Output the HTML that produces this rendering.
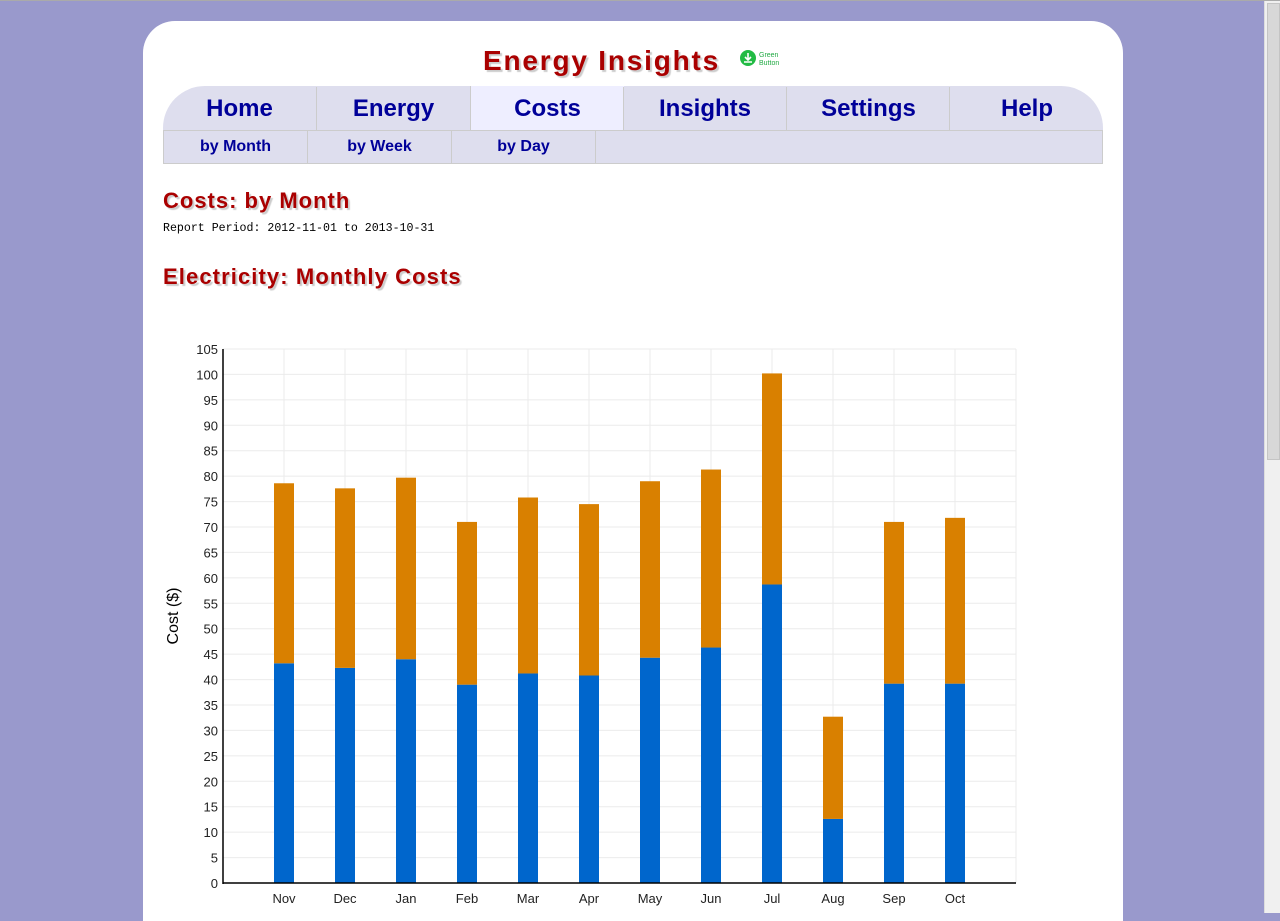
<!DOCTYPE html>
<html><head><meta charset="utf-8"><style>
html,body{margin:0;padding:0;}
body{width:1280px;height:913px;background:#9999cc;position:relative;overflow:hidden;font-family:"Liberation Sans",sans-serif;}
#topline{position:absolute;left:0;top:0;width:1280px;height:1px;background:#aaa;}
#scroll{position:absolute;left:1264px;top:1px;width:16px;height:912px;background:#f0f0f0;border-left:1px solid #ddd;}
#thumb{position:absolute;left:2px;top:2px;width:11px;height:455px;background:#d8d8d8;border:1px solid #c4c4c4;}
#card{position:absolute;left:143px;top:21px;width:980px;height:900px;background:#fff;border-radius:32px 32px 0 0;}
#title{position:absolute;left:340px;top:24px;white-space:nowrap;font-size:28px;letter-spacing:1.8px;font-weight:bold;color:#aa0000;text-shadow:2px 2px 1px #ccc;}
#gb{position:absolute;left:597px;top:28px;}
#nav{position:absolute;left:20px;top:65px;width:940px;height:44px;background:#dedeee;border-radius:42px 42px 0 0;overflow:hidden;border-bottom:1px solid #ccc;}
.tab{position:absolute;top:1px;height:44px;line-height:44px;text-align:center;font-size:24px;font-weight:bold;color:#000099;border-left:1px solid #ccc;}
#sub{position:absolute;left:20px;top:110px;width:938px;height:32px;background:#dedeee;border:1px solid #ccc;border-top:none;}
.st{position:absolute;top:0;height:32px;line-height:32px;text-align:center;font-size:16px;font-weight:bold;color:#000099;border-right:1px solid #ccc;}
h2{position:absolute;margin:0;left:20px;white-space:nowrap;font-size:22px;font-weight:bold;color:#aa0000;text-shadow:2px 2px 1px #ccc;}
#period{position:absolute;left:20px;top:201px;font-family:"Liberation Mono",monospace;font-size:11.6px;color:#000;}
</style></head><body>
<div id="topline"></div>
<div id="card">
<div id="title">Energy Insights</div>
<svg id="gb" width="42" height="22"><circle cx="8" cy="9" r="8" fill="#22bb44"/><path d="M8 4v7M5 8l3 3 3-3M4 13h8" stroke="#fff" stroke-width="1.6" fill="none"/><text x="19" y="8" font-size="7" fill="#22aa44" font-family="Liberation Sans">Green</text><text x="19" y="16" font-size="7" fill="#22aa44" font-family="Liberation Sans">Button</text></svg>
<div id="nav">
<div class="tab" style="left:0;width:153px;border-left:none">Home</div>
<div class="tab" style="left:153px;width:153px">Energy</div>
<div class="tab" style="left:307px;width:153px;background:#eeeeff;top:0;height:45px;line-height:46px">Costs</div>
<div class="tab" style="left:460px;width:162px">Insights</div>
<div class="tab" style="left:623px;width:163px">Settings</div>
<div class="tab" style="left:786px;width:154px">Help</div>
</div>
<div id="sub">
<div class="st" style="left:0;width:143px">by Month</div>
<div class="st" style="left:144px;width:143px">by Week</div>
<div class="st" style="left:288px;width:143px">by Day</div>
</div>
<h2 style="top:167px;letter-spacing:1px">Costs: by Month</h2>
<div id="period">Report Period: 2012-11-01 to 2013-10-31</div>
<h2 style="top:243px;letter-spacing:1.1px">Electricity: Monthly Costs</h2>
</div>
<svg id="chart" width="1280" height="913" style="position:absolute;left:0;top:0"></svg>
<div id="scroll"><div id="thumb"></div></div>
<script>
const months=["Nov","Dec","Jan","Feb","Mar","Apr","May","Jun","Jul","Aug","Sep","Oct"];
const baseCost=[43.2,42.3,44.0,39.0,41.2,40.8,44.3,46.3,58.7,12.6,39.2,39.2];
const extraCost=[35.4,35.3,35.7,32.0,34.6,33.7,34.7,35.0,41.5,20.1,31.8,32.6];
const yTicks=[0,5,10,15,20,25,30,35,40,45,50,55,60,65,70,75,80,85,90,95,100,105];
const svg=document.getElementById('chart');const NS='http://www.w3.org/2000/svg';
const X0=223,X1=1016,Y0=883,Y1=349,YMAX=105;
const y=v=>Y0-(v/YMAX)*(Y0-Y1);
const step=(X1-X0)/(months.length+1);
const x=i=>X0+step*(i+1);
function mk(t,a,parent){const e=document.createElementNS(NS,t);for(const k in a)e.setAttribute(k,a[k]);(parent||svg).appendChild(e);return e;}
yTicks.forEach(v=>{
 const g=mk('line',{x1:X0,x2:X1,y1:y(v),y2:y(v),stroke:'#ebebeb','stroke-width':1});
 
 
 const t=mk('text',{x:X0-5,y:y(v)+5,'text-anchor':'end','font-size':13,'font-family':'Liberation Sans',fill:'#222'});t.textContent=v;
 
 
});
months.forEach((m,i)=>{
 const g=mk('line',{x1:x(i),x2:x(i),y1:Y1,y2:Y0,stroke:'#ebebeb'});
 
 
});
const rb=mk('line',{x1:X1,x2:X1,y1:Y1,y2:Y0,stroke:'#ebebeb'});


months.forEach((m,i)=>{
 const b=mk('rect',{x:x(i)-10,y:y(baseCost[i]),width:20,height:Y0-y(baseCost[i]),fill:'#0066cc'});
 
 
 const tot=baseCost[i]+extraCost[i];
 const o=mk('rect',{x:x(i)-10,y:y(tot),width:20,height:y(baseCost[i])-y(tot),fill:'#d98000'});
 
 
 const t=mk('text',{x:x(i),y:903,'text-anchor':'middle','font-size':13,'font-family':'Liberation Sans',fill:'#222'});t.textContent=m;
 
 
});
const ya=mk('line',{x1:X0,x2:X0,y1:Y1,y2:Y0+1,stroke:'#000','stroke-width':1.5});


const xa=mk('line',{x1:X0,x2:X1,y1:Y0,y2:Y0,stroke:'#000','stroke-width':1.5});


const yt=mk('text',{x:0,y:0,transform:'translate(178,616) rotate(-90)','text-anchor':'middle','font-size':16,'font-family':'Liberation Sans',fill:'#000'});yt.textContent='Cost ($)';


</script>
</body></html>
